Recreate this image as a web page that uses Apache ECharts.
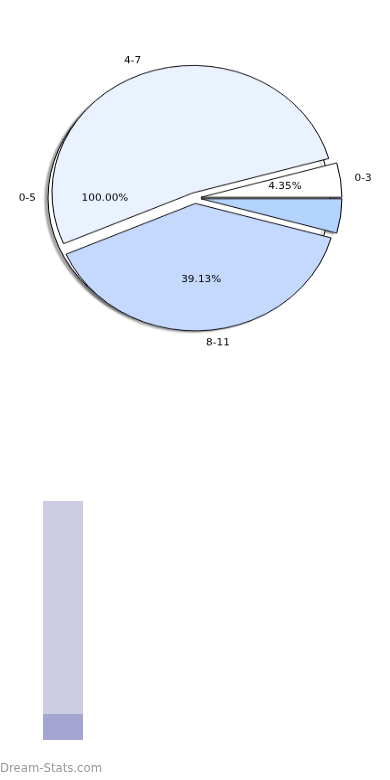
<!DOCTYPE html>
<html>
<head>
<meta charset="utf-8">
<script src="https://cdn.jsdelivr.net/npm/echarts@6/dist/echarts.min.js"></script>
<style>
html,body{margin:0;padding:0;background:#fff;width:390px;height:780px;overflow:hidden;}
#bar{position:absolute;left:0;top:0;width:390px;height:780px;}
#pie{position:absolute;left:0;top:0;width:390px;height:400px;transform:scaleY(0.904);transform-origin:195px 198px;}
</style>
</head>
<body>
<div id="bar"></div>
<div id="pie"></div>
<script>
// ---- data ----
const pieCategories = ['0-3', '4-7', '8-11', ''];
const pieValues = [1, 12, 9, 1];
const piePctShown = [true, false, true, false];
const outerCategories = ['0-5'];
const outerValues = [1];
const barCategories = [''];
const barBottomValues = [1];
const barTopValues = [8];
const watermark = 'Dream-Stats.com';

// ---- styles ----
const pieColors = ['#ffffff', '#eaf1ff', '#c5d9ff', '#b3d4ff'];
const FONT = 'DejaVu Sans';
const FS = 10.5;
const CX = 195, CY = 198, R = 141, EXPLODE = 6;
const SHADOW = { shadowColor: 'rgba(0,0,0,0.34)', shadowBlur: 2, shadowOffsetX: -3, shadowOffsetY: 2 };

function mainData(withColor) {
  return pieCategories.map((c, i) => ({
    name: c,
    value: pieValues[i],
    selected: true,
    itemStyle: withColor ? { color: pieColors[i] } : { color: 'rgba(0,0,0,0)', borderWidth: 0 },
    label: { show: withColor ? c !== '' : piePctShown[i] }
  }));
}

const baseSeries = {
  type: 'pie',
  center: [CX, CY],
  radius: R,
  startAngle: 0,
  clockwise: false,
  selectedMode: 'multiple',
  selectedOffset: EXPLODE,
  avoidLabelOverlap: false,
  animation: false,
  silent: true,
  emphasis: { disabled: true },
  labelLine: { show: false, length: 14, length2: 0 },
  itemStyle: { borderColor: '#000', borderWidth: 1 }
};

const outsideLabel = { show: true, position: 'outside', formatter: '{b}', color: '#000', fontFamily: FONT, fontSize: FS, distanceToLabelLine: 0 };

const pieChart = echarts.init(document.getElementById('pie'), null, { renderer: 'canvas' });
pieChart.setOption({
  animation: false,
  series: [
    // shadow layer of main wedges (below the outer pie)
    Object.assign({}, baseSeries, {
      data: mainData(true).map(d => Object.assign(d, { label: { show: false } })),
      itemStyle: Object.assign({ borderWidth: 0 }, SHADOW),
      label: { show: false }
    }),
    // outer single-slice pie 0-5
    Object.assign({}, baseSeries, {
      data: outerCategories.map((c, i) => ({ name: c, value: outerValues[i], selected: true })),
      itemStyle: Object.assign({ color: '#ffffff', borderColor: '#000', borderWidth: 1 }, SHADOW),
      labelLine: { show: false, length: 12, length2: 0 },
      label: outsideLabel
    }),
    // main wedges
    Object.assign({}, baseSeries, {
      data: mainData(true),
      label: outsideLabel
    }),
    // percent labels main
    Object.assign({}, baseSeries, {
      radius: [R * 0.16, R],
      data: mainData(false),
      label: { position: 'inside', color: '#000', fontFamily: FONT, fontSize: FS,
        formatter: p => p.percent.toFixed(2) + '%' }
    }),
    // percent label outer
    Object.assign({}, baseSeries, {
      radius: [R * 0.15, R],
      data: outerCategories.map((c, i) => ({ name: c, value: outerValues[i], selected: true })),
      itemStyle: { color: 'rgba(0,0,0,0)', borderWidth: 0 },
      label: { show: true, position: 'inside', color: '#000', fontFamily: FONT, fontSize: FS,
        formatter: p => p.percent.toFixed(2) + '%' }
    })
  ]
});

const barChart = echarts.init(document.getElementById('bar'), null, { renderer: 'canvas' });
barChart.setOption({
  animation: false,
  grid: { left: 43, width: 40, top: 501, bottom: 40 },
  xAxis: { type: 'category', data: barCategories, show: false },
  yAxis: { type: 'value', min: 0, max: 9, show: false },
  series: [
    { type: 'bar', stack: 's', data: barBottomValues, barWidth: '100%', itemStyle: { color: '#a5a5d2' }, silent: true },
    { type: 'bar', stack: 's', data: barTopValues, barWidth: '100%', itemStyle: { color: '#ccccE5' }, silent: true }
  ],
  graphic: [{
    type: 'text', left: 0, top: 763,
    style: { text: watermark, fill: '#999999', font: '11.7px "DejaVu Sans"' }
  }]
});
</script>
</body>
</html>
